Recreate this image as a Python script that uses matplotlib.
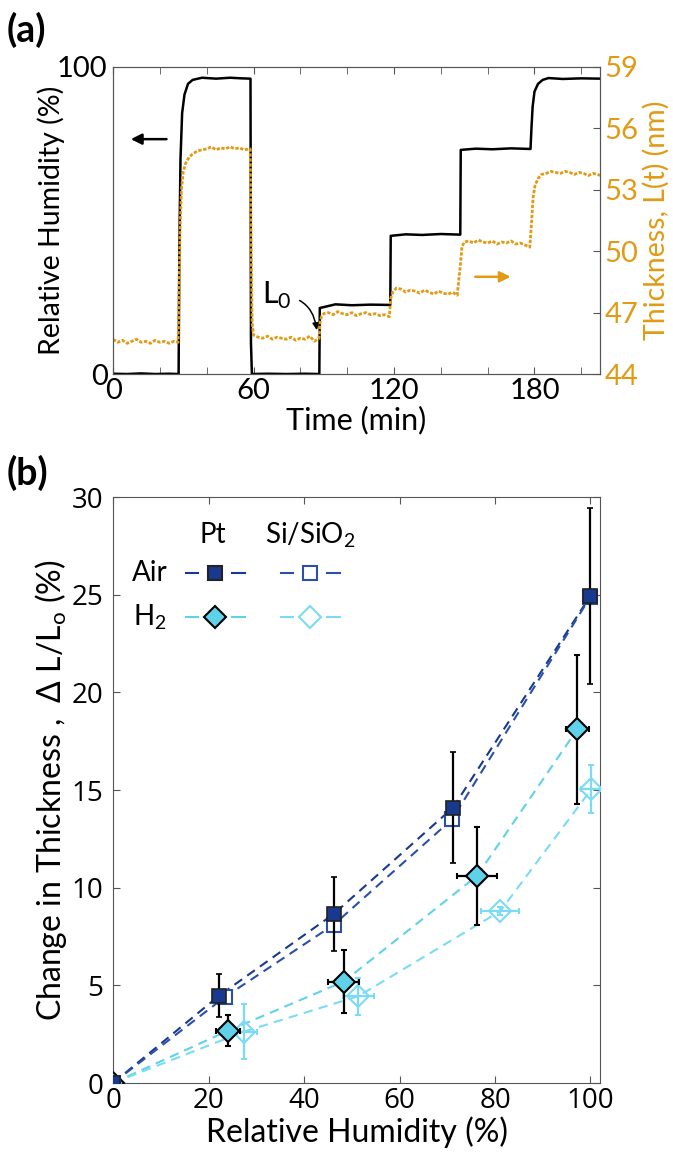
import numpy as np
import matplotlib.pyplot as plt
from matplotlib.ticker import MultipleLocator

plt.rcParams['font.family'] = ['Lato', 'DejaVu Sans']
plt.rcParams['mathtext.fontset'] = 'custom'
plt.rcParams['mathtext.rm'] = 'Lato'

# ---------------- panel (a): humidity and thickness vs time ----------------
t_rh = [0, 6, 12, 18, 24, 28.0, 28.3, 28.8, 29.5, 30.5, 32, 34, 38, 44, 50, 55, 58.7,
        58.9, 59.3, 66, 74, 82, 88.1, 88.3, 95, 102, 110, 118.4, 118.6, 125, 132,
        140, 148.3, 148.5, 155, 162, 170, 178.3, 178.7, 179.2, 180, 181.5, 183.5,
        186, 192, 200, 208]
rh = [0.1, 0.0, 0.2, 0.0, 0.1, 0.0, 40, 70, 85, 91, 94.5, 95.8, 96.5, 96.2, 96.5, 96.3, 96.2,
      10, 0.0, 0.1, 0.0, 0.1, 0.0, 21.5, 22.7, 22.4, 22.6, 22.5, 45.0, 45.5, 45.3,
      45.6, 45.4, 73.0, 73.4, 73.2, 73.5, 73.3, 80, 87, 92, 94.5, 95.8,
      96.4, 96.1, 96.3, 96.2]

t_L = [0, 2, 4, 6, 8, 10, 12, 14, 16, 18, 20, 22, 24, 26, 27.8,
       28.2, 28.6, 29.2, 30, 31, 32.5, 34, 36, 38,
       40, 42, 44, 46, 48, 50, 52, 54, 56, 58,
       58.6, 59.0, 59.4, 60,
       62, 64, 66, 68, 70, 72, 74, 76, 78, 80, 82, 84, 86, 88,
       88.4, 89, 90,
       92, 94, 96, 98, 100, 102, 104, 106, 108, 110, 112, 114, 116, 118,
       118.6, 119.5, 121,
       123, 125, 127, 129, 131, 133, 135, 137, 139, 141, 143, 145, 147,
       148.5, 149, 150,
       152, 154, 156, 158, 160, 162, 164, 166, 168, 170, 172, 174, 176, 178,
       178.8, 179.4, 180.2, 181.5, 183,
       185, 187, 189, 191, 193, 195, 197, 199, 201, 203, 205, 207, 208]
thick = [45.7, 45.55, 45.65, 45.5, 45.6, 45.7, 45.55, 45.6, 45.5, 45.65, 45.55, 45.6, 45.5, 45.6, 45.55,
         48.0, 51.0, 53.0, 53.9, 54.3, 54.6, 54.75, 54.9, 54.95,
         55.0, 55.1, 54.95, 55.05, 55.0, 55.1, 55.0, 55.05, 54.95, 55.0,
         55.0, 50.0, 46.5, 45.9,
         45.8, 45.75, 45.85, 45.7, 45.8, 45.75, 45.7, 45.8, 45.65, 45.75, 45.7, 45.85, 45.6, 45.75,
         46.5, 46.8, 46.95,
         47.0, 46.9, 47.05, 46.95, 46.9, 47.0, 46.85, 46.95, 47.0, 46.9, 46.95, 46.85, 46.9, 46.8,
         47.7, 48.0, 48.2,
         48.15, 48.0, 48.1, 48.05, 47.95, 48.1, 48.0, 47.9, 48.05, 47.95, 47.9, 48.0, 47.85,
         49.5, 50.2, 50.45,
         50.5, 50.4, 50.55, 50.45, 50.4, 50.5, 50.35, 50.45, 50.4, 50.5, 50.35, 50.4, 50.3, 50.2,
         51.5, 52.6, 53.2, 53.55, 53.75,
         53.8, 53.9, 53.85, 53.8, 53.9, 53.85, 53.75, 53.85, 53.8, 53.7, 53.8, 53.75, 53.7]

# ---------------- panel (b): change in thickness vs RH ----------------
pt_air_rh = [0, 22.2, 46.2, 71.2, 100]
pt_air_dl = [0, 4.47, 8.65, 14.1, 24.95]
pt_air_xerr = [0, 0.6, 0.6, 0.6, 0.6]
pt_air_yerr = [0, 1.1, 1.9, 2.85, 4.5]

si_air_rh = [0, 23.4, 46.2, 71.0, 100]
si_air_dl = [0, 4.4, 8.1, 13.5, 24.9]
si_air_xerr = [0, 0.7, 0.7, 0.7, 0.7]
si_air_yerr = [0, 0.2, 0.2, 0.2, 0.2]

pt_h2_rh = [0, 24.1, 48.3, 76.2, 97.2]
pt_h2_dl = [0, 2.68, 5.19, 10.6, 18.1]
pt_h2_xerr = [0, 2.5, 3.3, 4.2, 2.4]
pt_h2_yerr = [0, 0.8, 1.6, 2.5, 3.8]

si_h2_rh = [0, 27.4, 51.4, 81.1, 100.2]
si_h2_dl = [0, 2.63, 4.45, 8.8, 15.05]
si_h2_xerr = [0, 2.7, 3.3, 4.0, 2.1]
si_h2_yerr = [0, 1.4, 0.95, 0.2, 1.25]

orange = '#E29A14'
navy = '#17398E'
navy2 = '#2C50A8'
cyan = '#5FD2EA'
cyan2 = '#7BDBF5'
spine_c = '#555555'

fig = plt.figure(figsize=(6.73, 11.53), dpi=100)

# ---- panel (a)
ax1 = fig.add_axes([0.168, 0.6756, 0.7236, 0.2663])
ax1.plot(t_rh, rh, color='black', lw=1.8)
ax1.set_xlim(0, 208)
ax1.set_ylim(0, 100)
ax1.set_xticks([0, 60, 120, 180])
ax1.xaxis.set_minor_locator(MultipleLocator(20))
ax1.set_yticks([0, 100])
ax1.tick_params(axis='both', which='both', direction='in', top=True, labelsize=21, pad=3)
ax1.tick_params(axis='x', which='both', length=5, color=spine_c)
ax1.tick_params(axis='y', length=0, pad=4)
ax1.set_xlabel('Time (min)', fontsize=22, labelpad=1)
ax1.set_ylabel('Relative Humidity (%)', fontsize=20.5, labelpad=-6)
for s in ax1.spines.values():
    s.set_color(spine_c)

ax2 = ax1.twinx()
ax2.plot(t_L, thick, color=orange, lw=2.0, linestyle=(0, (1.2, 0.6)))
ax2.set_ylim(44, 59)
ax2.set_yticks([44, 47, 50, 53, 56, 59])
ax2.tick_params(axis='y', direction='in', length=5, color=spine_c, labelcolor=orange,
                labelsize=21, pad=3)
ax2.set_ylabel('Thickness, L(t) (nm)', fontsize=20.5, color=orange, labelpad=3)
for s in ax2.spines.values():
    s.set_color(spine_c)

ax1.annotate('', xy=(6.4, 76.5), xytext=(24, 76.5),
             arrowprops=dict(arrowstyle='-|>', color='black', lw=1.8, mutation_scale=16))
ax2.annotate('', xy=(171, 48.75), xytext=(153.5, 48.75),
             arrowprops=dict(arrowstyle='-|>', color=orange, lw=1.8, mutation_scale=16))
ax1.annotate('L$_0$', xy=(87, 14.3), xytext=(70, 25.5), fontsize=22, ha='center', va='center',
             arrowprops=dict(arrowstyle='-|>', color='black', lw=1.1, mutation_scale=10,
                             shrinkA=4, shrinkB=0, connectionstyle='arc3,rad=-0.45'))

fig.text(0.010, 0.974, '(a)', fontsize=27, fontweight='bold', va='center')

# ---- panel (b)
ax = fig.add_axes([0.168, 0.0607, 0.7236, 0.5082])
dash = (0, (4.5, 3))
ax.plot(pt_air_rh, pt_air_dl, color=navy, lw=1.5, linestyle=dash, zorder=2)
ax.plot(si_air_rh, si_air_dl, color=navy2, lw=1.5, linestyle=dash, zorder=2)
ax.plot(pt_h2_rh, pt_h2_dl, color=cyan, lw=1.5, linestyle=dash, zorder=2)
ax.plot(si_h2_rh, si_h2_dl, color=cyan2, lw=1.5, linestyle=dash, zorder=2)

ax.errorbar(si_h2_rh, si_h2_dl, xerr=si_h2_xerr, yerr=si_h2_yerr, fmt='D', ms=11,
            mfc='none', mec=cyan2, mew=1.5, ecolor=cyan2, elinewidth=1.6, capsize=2, zorder=3)
ax.errorbar(pt_h2_rh, pt_h2_dl, xerr=pt_h2_xerr, yerr=pt_h2_yerr, fmt='D', ms=11,
            mfc=cyan, mec='black', mew=1.5, ecolor='black', elinewidth=1.6, capsize=2, zorder=4)
ax.errorbar(si_air_rh, si_air_dl, xerr=si_air_xerr, yerr=si_air_yerr, fmt='s', ms=10,
            mfc='white', mec=navy2, mew=1.5, ecolor=navy2, elinewidth=1.3, capsize=2, zorder=5)
ax.errorbar(pt_air_rh, pt_air_dl, xerr=pt_air_xerr, yerr=pt_air_yerr, fmt='s', ms=10,
            mfc=navy, mec='#222222', mew=1.2, ecolor='black', elinewidth=1.6, capsize=2, zorder=6)

ax.set_xlim(0, 102)
ax.set_ylim(0, 30)
ax.set_xticks([0, 20, 40, 60, 80, 100])
ax.set_yticks([0, 5, 10, 15, 20, 25, 30])
ax.tick_params(axis='both', direction='in', top=True, right=True, length=5, color=spine_c,
               labelsize=20, pad=3, labelfontfamily='Open Sans')
ax.tick_params(axis='y', pad=7)
ax.set_xlabel('Relative Humidity (%)', fontsize=23, labelpad=1)
ax.set_ylabel('Change in Thickness ,  $\\Delta$ L/L$_\\mathrm{o}$ (%)', fontsize=23, labelpad=2)
for s in ax.spines.values():
    s.set_color(spine_c)

# legend laid out as in the reference (two columns, two rows)
tr = ax.transAxes
ax.text(0.205, 0.935, 'Pt', transform=tr, fontsize=20, ha='center', va='center')
ax.text(0.405, 0.935, 'Si/SiO$_2$', transform=tr, fontsize=20, ha='center', va='center')
ax.text(0.075, 0.87, 'Air', transform=tr, fontsize=20, ha='center', va='center')
ax.text(0.075, 0.795, 'H$_2$', transform=tr, fontsize=20, ha='center', va='center')
legend_rows = [
    (0.87, 0.210, navy, 's', 10, navy, '#222222'),
    (0.87, 0.405, navy2, 's', 10, 'white', navy2),
    (0.795, 0.210, cyan, 'D', 11, cyan, 'black'),
    (0.795, 0.405, cyan2, 'D', 11, 'none', cyan2),
]
for yy, xc, lc, mk, ms, fc, ec in legend_rows:
    ax.plot([xc - 0.06, xc - 0.035], [yy, yy], color=lc, lw=1.5, transform=tr)
    ax.plot([xc + 0.035, xc + 0.06], [yy, yy], color=lc, lw=1.5, transform=tr)
    ax.plot([xc], [yy], marker=mk, ms=ms, mfc=fc, mec=ec, mew=1.5, transform=tr, ls='none')

fig.text(0.010, 0.590, '(b)', fontsize=27, fontweight='bold', va='center')

fig.savefig('out.png', dpi=100)
